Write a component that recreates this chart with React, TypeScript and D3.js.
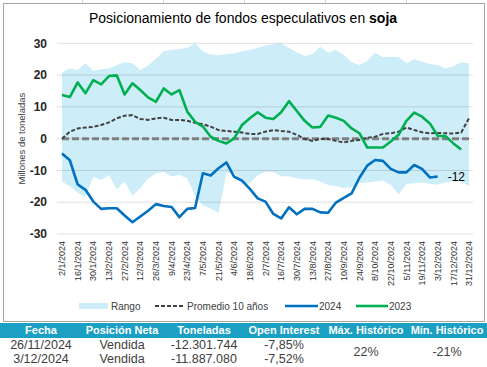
import * as d3 from "d3";
import { useEffect, useRef } from "react";

// semanas: índice 0 = 2/1/2024 ... 52 = 31/12/2024, etiquetas cada 2 semanas
const tickLabels = [
  "2/1/2024", "16/1/2024", "30/1/2024", "13/2/2024", "27/2/2024", "12/3/2024",
  "26/3/2024", "9/4/2024", "23/4/2024", "7/5/2024", "21/5/2024", "4/6/2024",
  "18/6/2024", "2/7/2024", "16/7/2024", "30/7/2024", "13/8/2024", "27/8/2024",
  "10/9/2024", "24/9/2024", "8/10/2024", "22/10/2024", "5/11/2024", "19/11/2024",
  "3/12/2024", "17/12/2024", "31/12/2024",
];

const rangeHigh = [
  20.9, 22.1, 21.6, 23.7, 21.3, 21.8, 22.1, 23.2, 24.0, 23.7,
  21.6, 23.0, 25.1, 27.6, 27.9, 28.2, 28.6, 30.0, 27.4, 26.5,
  26.3, 26.6, 26.9, 27.5, 27.9, 28.6, 29.3, 29.8, 30.0, 28.6,
  27.2, 26.0, 26.6, 28.9, 27.0, 28.0, 26.3, 24.0, 23.2, 24.5,
  27.0, 25.6, 25.8, 25.7, 23.7, 25.0, 24.2, 23.5, 23.2, 22.1,
  22.8, 24.0, 23.7,
];

const rangeLow = [
  -13.5, -15.0, -17.0, -18.2, -12.0, -13.0, -11.4, -16.0, -13.5, -18.0,
  -15.6, -12.5, -11.0, -10.5, -11.9, -11.4, -12.5, -18.0, -21.0, -22.0,
  -23.5, -11.0, -10.5, -14.5, -14.0, -11.5, -10.3, -10.5, -11.8, -11.9,
  -12.5, -12.8, -12.8, -13.5, -14.6, -15.0, -15.6, -15.3, -14.0, -13.8,
  -13.5, -13.2, -14.5, -17.5, -14.3, -14.0, -13.8, -14.2, -14.5, -13.8,
  -13.5, -13.5, -15.0,
];

const avg10 = [
  0, 2.2, 3.2, 3.5, 3.7, 4.3, 5.1, 6.4, 7.2, 7.4,
  6.2, 5.9, 6.4, 6.6, 5.9, 5.9, 5.6, 5.0, 4.5, 3.8,
  2.7, 2.4, 2.2, 1.9, 1.5, 1.5, 2.2, 2.7, 2.4, 2.2,
  1.2, -0.1, -0.7, -0.1, -0.1, -0.7, -1.2, -0.7, -0.4, 0.3,
  0.6, 1.5, 1.7, 2.2, 3.5, 2.7, 2.0, 1.7, 1.8, 1.7,
  1.6, 1.9, 6.4,
];

const s2024 = [
  -4.7, -6.8, -14.4, -16.1, -19.8, -22.1, -21.9, -21.9, -24.2, -26.3,
  -24.5, -22.7, -20.6, -21.2, -21.5, -24.7, -22.1, -21.8, -10.9, -11.6,
  -9.3, -7.5, -12.0, -13.2, -15.8, -18.8, -19.8, -23.7, -25.1, -21.6,
  -23.8, -22.1, -22.1, -23.2, -23.3, -20.1, -18.6, -17.2, -12.3, -8.5,
  -6.7, -7.0, -9.5, -10.6, -10.6, -8.3, -9.5, -12.2, -11.9,
];

const s2023 = [
  13.7, 13.1, 17.7, 14.3, 18.4, 17.1, 19.7, 19.9, 13.9, 17.4,
  15.3, 13.0, 11.6, 15.8, 13.9, 15.3, 8.5, 5.3, 3.8, 0.6,
  -0.7, -1.5, 0.1, 4.3, 6.4, 8.3, 6.6, 6.2, 8.3, 11.8,
  8.7, 5.6, 3.5, 3.7, 7.3, 6.6, 5.6, 3.2, 1.7, -2.8,
  -2.8, -2.8, -0.9, 1.2, 5.6, 8.2, 6.9, 4.8, 0.9, 0.8,
  -1.5, -3.4,
];

const yTicks = [30, 20, 10, 0, -10, -20, -30];

const tableHead = ["Fecha", "Posición Neta", "Toneladas", "Open Interest", "Máx. Histórico", "Mín. Histórico"];
const tableRows = [
  ["26/11/2024", "Vendida", "-12.301.744", "-7,85%"],
  ["3/12/2024", "Vendida", "-11.887.080", "-7,52%"],
];
const histMax = "22%";
const histMin = "-21%";

export default function App() {
  const ref = useRef<SVGSVGElement | null>(null);

  useEffect(() => {
    const el = ref.current;
    if (!el) return;
    const svg = d3.select(el);
    svg.selectAll("*").remove();

    const W = 487;
    const H = 367;
    const font = "'Liberation Sans', Arial, sans-serif";
    const blue = "#0070C0";
    const green = "#00B050";
    const rangeFill = "#CDEDF9";

    const x = d3.scaleLinear().domain([0, 52]).range([62, 469]);
    const y = d3.scaleLinear().domain([-30, 30]).range([234, 43.3]);

    svg.attr("width", W).attr("height", H).attr("viewBox", `0 0 ${W} ${H}`);
    svg.append("rect").attr("width", W).attr("height", H).attr("fill", "#fff");

    // bordes de celdas arriba y marco del gráfico
    [82, 163, 244, 325, 406].forEach((cx) =>
      svg.append("line").attr("x1", cx + 0.5).attr("x2", cx + 0.5).attr("y1", 0).attr("y2", 3)
        .attr("stroke", "#d4d4d4"),
    );
    svg.append("rect")
      .attr("x", 3.5).attr("y", 3.5).attr("width", 481).attr("height", 318)
      .attr("fill", "none").attr("stroke", "#a6a6a6");

    const title = svg.append("text")
      .attr("x", 243).attr("y", 23)
      .attr("text-anchor", "middle")
      .attr("font-family", font).attr("font-size", 14).attr("fill", "#000");
    title.append("tspan").text("Posicionamiento de fondos especulativos en ");
    title.append("tspan").attr("font-weight", "bold").text("soja");

    // rango histórico
    const area = d3.area<number>()
      .x((_, i) => x(i))
      .y0((_, i) => y(rangeLow[i]))
      .y1((d) => y(d));
    svg.append("path").datum(rangeHigh).attr("fill", rangeFill).attr("d", area);

    // grilla y etiquetas del eje Y
    yTicks.forEach((t) => {
      svg.append("line")
        .attr("x1", 57).attr("x2", 473)
        .attr("y1", y(t)).attr("y2", y(t))
        .attr("stroke", "rgba(0,0,0,0.13)").attr("stroke-width", 1);
      svg.append("text")
        .attr("x", 47).attr("y", y(t)).attr("dy", "0.35em")
        .attr("text-anchor", "end")
        .attr("font-family", font).attr("font-size", 12).attr("font-weight", "bold")
        .attr("fill", "#262626")
        .text(t);
    });

    svg.append("text")
      .attr("transform", `translate(22,${y(0)}) rotate(-90)`)
      .attr("dy", "0.35em")
      .attr("text-anchor", "middle")
      .attr("font-family", font).attr("font-size", 9.5).attr("fill", "#404040")
      .text("Millones de toneladas");

    // línea de cero
    svg.append("line")
      .attr("x1", x(0)).attr("x2", x(52))
      .attr("y1", y(0)).attr("y2", y(0))
      .attr("stroke", "#808080").attr("stroke-width", 3).attr("stroke-dasharray", "7,3");

    const line = d3.line<number>().x((_, i) => x(i)).y((d) => y(d));

    svg.append("path").datum(avg10)
      .attr("fill", "none").attr("stroke", "#404040").attr("stroke-width", 2)
      .attr("stroke-dasharray", "4,2").attr("d", line);

    svg.append("path").datum(s2024)
      .attr("fill", "none").attr("stroke", blue).attr("stroke-width", 2.6)
      .attr("stroke-linejoin", "round").attr("d", line);

    svg.append("path").datum(s2023)
      .attr("fill", "none").attr("stroke", green).attr("stroke-width", 2.6)
      .attr("stroke-linejoin", "round").attr("d", line);

    const last = s2024.length - 1;
    svg.append("text")
      .attr("x", x(last) + 10).attr("y", y(s2024[last])).attr("dy", "0.35em")
      .attr("font-family", font).attr("font-size", 12).attr("fill", "#000")
      .text(Math.round(s2024[last]));

    // etiquetas eje X
    tickLabels.forEach((lab, k) => {
      svg.append("text")
        .attr("transform", `translate(${x(k * 2)},241) rotate(-90)`)
        .attr("dy", "0.35em")
        .attr("text-anchor", "end")
        .attr("font-family", font).attr("font-size", 9).attr("fill", "#333")
        .text(lab);
    });

    // leyenda
    const lg = svg.append("g").attr("font-family", font).attr("font-size", 10).attr("fill", "#404040");
    const ly = 306;
    lg.append("rect").attr("x", 79).attr("y", ly - 3).attr("width", 29).attr("height", 6).attr("fill", rangeFill);
    lg.append("text").attr("x", 111).attr("y", ly).attr("dy", "0.35em").text("Rango");
    lg.append("line").attr("x1", 155).attr("x2", 185).attr("y1", ly).attr("y2", ly)
      .attr("stroke", "#404040").attr("stroke-width", 2).attr("stroke-dasharray", "4,2");
    lg.append("text").attr("x", 187).attr("y", ly).attr("dy", "0.35em").text("Promedio 10 años");
    lg.append("line").attr("x1", 285).attr("x2", 318).attr("y1", ly).attr("y2", ly)
      .attr("stroke", blue).attr("stroke-width", 2.6);
    lg.append("text").attr("x", 319).attr("y", ly).attr("dy", "0.35em").text("2024");
    lg.append("line").attr("x1", 356).attr("x2", 388).attr("y1", ly).attr("y2", ly)
      .attr("stroke", green).attr("stroke-width", 2.6);
    lg.append("text").attr("x", 389).attr("y", ly).attr("dy", "0.35em").text("2023");

    // tabla
    const colX = [41, 122, 204, 284, 366, 447];
    svg.append("rect").attr("x", 0).attr("y", 323).attr("width", W).attr("height", 15).attr("fill", "#1BA0C4");
    tableHead.forEach((h, i) => {
      svg.append("text")
        .attr("x", colX[i]).attr("y", 330.5).attr("dy", "0.35em")
        .attr("text-anchor", "middle")
        .attr("font-family", font).attr("font-size", 11).attr("font-weight", "bold")
        .attr("fill", "#fff")
        .text(h);
    });
    const rowY = [345, 359];
    tableRows.forEach((row, r) => {
      row.forEach((cell, i) => {
        svg.append("text")
          .attr("x", colX[i]).attr("y", rowY[r]).attr("dy", "0.35em")
          .attr("text-anchor", "middle")
          .attr("font-family", font).attr("font-size", 12.5).attr("fill", "#404040")
          .text(cell);
      });
    });
    [histMax, histMin].forEach((v, j) => {
      svg.append("text")
        .attr("x", colX[4 + j]).attr("y", 352).attr("dy", "0.35em")
        .attr("text-anchor", "middle")
        .attr("font-family", font).attr("font-size", 12.5).attr("fill", "#404040")
        .text(v);
    });
  }, []);

  return (
    <svg
      ref={ref}
      style={{ position: "absolute", left: 0, top: 0, display: "block" }}
    />
  );
}
